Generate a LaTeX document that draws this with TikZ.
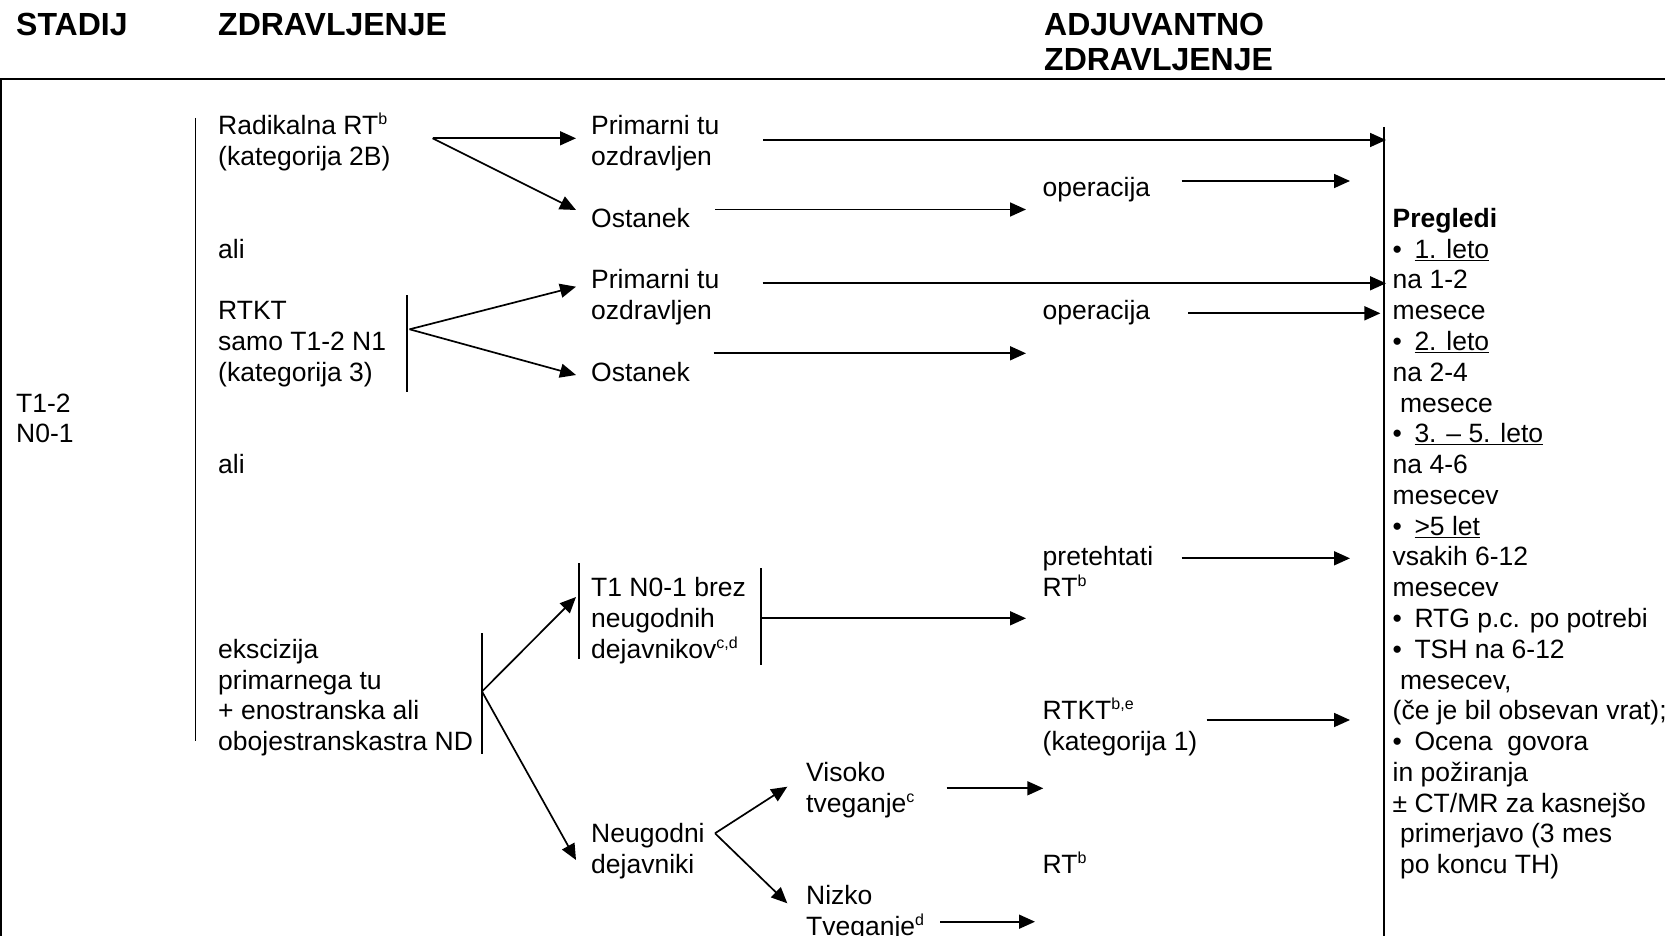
\documentclass[tikz,border=0pt]{standalone}
\usepackage{fontspec}
\setmainfont{Liberation Sans}
\usetikzlibrary{arrows.meta}
% baseline of text row #1 (a node is anchored at the baseline of its last line)
\newcommand{\rowy}[1]{135+30.78*(#1)}
\newcommand{\sups}[1]{\raisebox{10pt}{\fontsize{16}{16}\selectfont #1}}
\newcommand{\bul}{\makebox[21.8pt][l]{•}}
\tikzset{
  txt/.style={anchor=base west, inner sep=0pt, align=left,
              font=\fontsize{26.5}{30.78}\selectfont},
  hdr/.style={anchor=base west, inner sep=0pt, align=left,
              font=\bfseries\fontsize{32}{35.5}\selectfont},
  arr/.style={-{Triangle[length=16pt,width=14pt]}, line width=1.7pt},
  bar/.style={line width=1.5pt},
}
\begin{document}
\begin{tikzpicture}[x=1pt,y=-1pt]
\useasboundingbox (0,0) rectangle (1665,936);

% column headings
\node[hdr] (hStadij) at (16,35.5) {STADIJ};
\node[hdr] (hZdr) at (218,35.5) {ZDRAVLJENJE};
\node[hdr] (hAdj) at (1044,71) {ADJUVANTNO\\ZDRAVLJENJE};

% table frame
\draw[line width=2.2pt] (0,79) -- (1665,79);
\draw[line width=2pt] (1,79) -- (1,936);

% stage
\node[txt] (stage) at (16,{\rowy{10}}) {T1-2\\N0-1};

% treatment column
\node[txt] (radRT) at (218,{\rowy{1}}) {Radikalna RT\sups{b}\\(kategorija 2B)};
\node[txt] (ali1) at (218,{\rowy{4}}) {ali};
\node[txt] (rtkt) at (218,{\rowy{8}}) {RTKT\\samo T1-2 N1\\(kategorija 3)};
\node[txt] (ali2) at (218,{\rowy{11}}) {ali};
\node[txt] (eksc) at (218,{\rowy{20}}) {ekscizija\\primarnega tu\\+ enostranska ali\\obojestranskastra ND};

% outcomes
\node[txt] (prim1) at (591,{\rowy{1}}) {Primarni tu\\ozdravljen};
\node[txt] (ost1) at (591,{\rowy{3}}) {Ostanek};
\node[txt] (prim2) at (591,{\rowy{6}}) {Primarni tu\\ozdravljen};
\node[txt] (ost2) at (591,{\rowy{8}}) {Ostanek};
\node[txt] (t1) at (591,{\rowy{17}}) {T1 N0-1 brez\\neugodnih\\dejavnikov\sups{c,d}};
\node[txt] (neug) at (591,{\rowy{24}}) {Neugodni\\dejavniki};
\node[txt] (vis) at (806,{\rowy{22}}) {Visoko\\tveganje\sups{c}};
\node[txt] (niz) at (806,{\rowy{26}}) {Nizko\\Tveganje\sups{d}};

% adjuvant treatment
\node[txt] (op1) at (1042.5,{\rowy{2}}) {operacija};
\node[txt] (op2) at (1042.5,{\rowy{6}}) {operacija};
\node[txt] (pret) at (1042.5,{\rowy{15}}) {pretehtati\\RT\sups{b}};
\node[txt] (rtktA) at (1042.5,{\rowy{20}}) {RTKT\sups{b,e}\\(kategorija 1)};
\node[txt] (rtB) at (1042.5,{\rowy{24}}) {RT\sups{b}};

% follow-up
\node[txt] (preg) at (1392.5,{\rowy{24}}) {\textbf{Pregledi}\\
\bul\underline{1. leto}\\
na 1-2\\
mesece\\
\bul\underline{2. leto}\\
na 2-4\\
\hspace*{0.278em}mesece\\
\bul\underline{3. – 5. leto}\\
na 4-6\\
mesecev\\
\bul\underline{>5 let}\\
vsakih 6-12\\
mesecev\\
\bul RTG p.c. po potrebi\\
\bul TSH na 6-12\\
\hspace*{0.278em}mesecev,\\
(če je bil obsevan vrat);\\
\bul Ocena\ \ govora\\
in požiranja\\
± CT/MR za kasnejšo\\
\hspace*{0.278em}primerjavo (3 mes\\
\hspace*{0.278em}po koncu TH)};

% brackets
\coordinate (mainTop) at (195.5,118);
\coordinate (mainBot) at (195.5,741);
\draw[bar] (mainTop) -- (mainBot);
\coordinate (rtktTop) at (407,295);
\coordinate (rtktBot) at (407,392);
\draw[bar] (rtktTop) -- (rtktBot);
\coordinate (ekscTop) at (482,633);
\coordinate (ekscBot) at (482,754);
\draw[bar] (ekscTop) -- (ekscBot);
\coordinate (t1LTop) at (579,563);
\coordinate (t1LBot) at (579,659);
\draw[bar] (t1LTop) -- (t1LBot);
\coordinate (t1RTop) at (761,568);
\coordinate (t1RBot) at (761,665);
\draw[bar] (t1RTop) -- (t1RBot);
\coordinate (fuTop) at (1384,127);
\coordinate (fuBot) at (1384,936);
\draw[bar] (fuTop) -- (fuBot);

% branch and flow arrows
\coordinate (radO) at (432.5,138.3);
\coordinate (radA) at (576,138.3);
\coordinate (radB) at (576,210);
\draw[arr] (radO) -- (radA);
\draw[arr] (radO) -- (radB);

\coordinate (p1O) at (763,140);
\coordinate (p1E) at (1386,140);
\draw[arr] (p1O) -- (p1E);
\coordinate (op1O) at (1181.5,181);
\coordinate (op1E) at (1350,181);
\draw[arr] (op1O) -- (op1E);
\coordinate (o1O) at (715,209.5);
\coordinate (o1E) at (1026,209.5);
\draw[arr] (o1O) -- (o1E);

\coordinate (rtktO) at (409.6,329.3);
\coordinate (rtktA1) at (576,286.7);
\coordinate (rtktB1) at (576,375);
\draw[arr] (rtktO) -- (rtktA1);
\draw[arr] (rtktO) -- (rtktB1);

\coordinate (p2O) at (762.5,283.3);
\coordinate (p2E) at (1386,283.3);
\draw[arr] (p2O) -- (p2E);
\coordinate (op2O) at (1188,313.3);
\coordinate (op2E) at (1380.4,313.3);
\draw[arr] (op2O) -- (op2E);
\coordinate (o2O) at (713.6,353.3);
\coordinate (o2E) at (1026,353.3);
\draw[arr] (o2O) -- (o2E);

\coordinate (pretO) at (1181.5,558.3);
\coordinate (pretE) at (1350,558.3);
\draw[arr] (pretO) -- (pretE);
\coordinate (t1O) at (762,618.3);
\coordinate (t1E) at (1026,618.3);
\draw[arr] (t1O) -- (t1E);

\coordinate (ekscO) at (482,691.5);
\coordinate (ekscA) at (576,597);
\coordinate (ekscB) at (576,860);
\draw[arr] (ekscO) -- (ekscA);
\draw[arr] (ekscO) -- (ekscB);

\coordinate (rtktAO) at (1206.5,720);
\coordinate (rtktAE) at (1350,720);
\draw[arr] (rtktAO) -- (rtktAE);

\coordinate (neugO) at (715,833.3);
\coordinate (neugA) at (787.3,786.7);
\coordinate (neugB) at (787.3,903.3);
\draw[arr] (neugO) -- (neugA);
\draw[arr] (neugO) -- (neugB);

\coordinate (visO) at (946.7,788.3);
\coordinate (visE) at (1043.3,788.3);
\draw[arr] (visO) -- (visE);
\coordinate (nizO) at (940,921.7);
\coordinate (nizE) at (1035,921.7);
\draw[arr] (nizO) -- (nizE);
\end{tikzpicture}
\end{document}
